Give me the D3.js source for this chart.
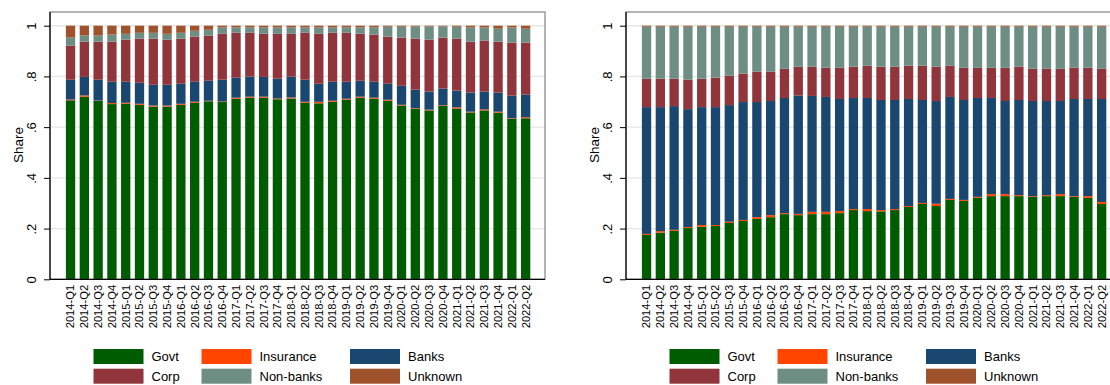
<!DOCTYPE html>
<html>
<head>
<meta charset="utf-8">
<script src="https://cdn.jsdelivr.net/npm/d3@7/dist/d3.min.js"></script>
<style>
  html, body { margin: 0; padding: 0; background: #ffffff; }
  svg { display: block; font-family: "Liberation Sans", Arial, Helvetica, sans-serif; }
</style>
</head>
<body>
<script>
// Quarterly labels on the category axis
const quarters = [
  "2014-Q1","2014-Q2","2014-Q3","2014-Q4","2015-Q1","2015-Q2","2015-Q3","2015-Q4",
  "2016-Q1","2016-Q2","2016-Q3","2016-Q4","2017-Q1","2017-Q2","2017-Q3","2017-Q4",
  "2018-Q1","2018-Q2","2018-Q3","2018-Q4","2019-Q1","2019-Q2","2019-Q3","2019-Q4",
  "2020-Q1","2020-Q2","2020-Q3","2020-Q4","2021-Q1","2021-Q2","2021-Q3","2021-Q4",
  "2022-Q1","2022-Q2"
];

// Holder groups, stacked bottom to top
const seriesNames = ["Govt", "Insurance", "Banks", "Corp", "Non-banks", "Unknown"];
const seriesColors = ["#005c00", "#ff4500", "#1a476f", "#90353b", "#6e8e84", "#a0522d"];

const yTickValues = [0, 0.2, 0.4, 0.6, 0.8, 1];
const yTickLabels = ["0", ".2", ".4", ".6", ".8", "1"];

// Left panel shares
const govtA = [0.706,0.720,0.704,0.691,0.692,0.688,0.681,0.681,0.688,0.696,0.702,0.699,0.712,0.716,0.716,0.710,0.713,
               0.696,0.694,0.700,0.708,0.716,0.712,0.704,0.685,0.673,0.666,0.685,0.673,0.658,0.666,0.657,0.633,0.635];
const insuranceA = [0.003,0.005,0.001,0.004,0.004,0.004,0.004,0.004,0.004,0.004,0.002,0.002,0.004,0.004,0.004,0.003,0.004,
                    0.004,0.006,0.004,0.004,0.004,0.004,0.004,0.003,0.002,0.003,0.002,0.005,0.003,0.004,0.004,0.002,0.004];
const banksA = [0.078,0.073,0.082,0.084,0.083,0.083,0.082,0.082,0.079,0.079,0.079,0.086,0.079,0.079,0.078,0.078,0.082,
                0.087,0.071,0.075,0.067,0.063,0.063,0.063,0.075,0.073,0.071,0.065,0.066,0.075,0.070,0.075,0.089,0.089];
const corpA = [0.134,0.139,0.150,0.158,0.166,0.174,0.182,0.178,0.178,0.178,0.178,0.181,0.177,0.173,0.170,0.177,0.169,
               0.185,0.197,0.193,0.193,0.185,0.186,0.186,0.190,0.201,0.205,0.201,0.205,0.201,0.201,0.201,0.209,0.205];
const nonbanksA = [0.032,0.025,0.024,0.028,0.023,0.023,0.023,0.023,0.023,0.023,0.023,0.025,0.021,0.021,0.025,0.025,0.025,
                   0.021,0.025,0.021,0.021,0.025,0.028,0.039,0.043,0.048,0.052,0.044,0.047,0.056,0.052,0.051,0.060,0.055];
const unknownA = [0.047,0.038,0.039,0.035,0.032,0.028,0.028,0.032,0.028,0.020,0.016,0.007,0.007,0.007,0.007,0.007,0.007,
                  0.007,0.007,0.007,0.007,0.007,0.007,0.004,0.004,0.003,0.003,0.003,0.004,0.007,0.007,0.012,0.007,0.012];

// Right panel shares
const govtB = [0.175,0.184,0.191,0.202,0.207,0.210,0.222,0.230,0.238,0.245,0.257,0.253,0.257,0.257,0.261,0.273,0.269,
               0.268,0.273,0.285,0.297,0.289,0.313,0.309,0.321,0.328,0.328,0.328,0.325,0.328,0.328,0.325,0.321,0.297];
const insuranceB = [0.004,0.006,0.004,0.004,0.007,0.004,0.005,0.004,0.007,0.008,0.004,0.005,0.009,0.009,0.008,0.004,0.008,
                    0.005,0.004,0.004,0.004,0.009,0.004,0.004,0.004,0.008,0.008,0.004,0.003,0.004,0.008,0.003,0.007,0.008];
const banksB = [0.500,0.489,0.488,0.465,0.465,0.465,0.460,0.465,0.454,0.450,0.454,0.467,0.457,0.453,0.442,0.438,0.438,
                0.434,0.430,0.422,0.406,0.405,0.402,0.394,0.390,0.379,0.367,0.375,0.375,0.371,0.367,0.383,0.383,0.406];
const corpB = [0.112,0.112,0.108,0.116,0.112,0.116,0.116,0.112,0.120,0.116,0.115,0.113,0.115,0.115,0.123,0.123,0.127,
               0.131,0.131,0.131,0.135,0.135,0.123,0.127,0.119,0.119,0.131,0.131,0.127,0.127,0.127,0.123,0.123,0.119];
const nonbanksB = [0.205,0.205,0.205,0.209,0.205,0.201,0.193,0.185,0.177,0.177,0.166,0.158,0.158,0.162,0.162,0.158,0.154,
                   0.158,0.158,0.154,0.154,0.158,0.154,0.162,0.162,0.162,0.162,0.158,0.166,0.166,0.166,0.162,0.162,0.166];
const unknownB = [0.004,0.004,0.004,0.004,0.004,0.004,0.004,0.004,0.004,0.004,0.004,0.004,0.004,0.004,0.004,0.004,0.004,
                  0.004,0.004,0.004,0.004,0.004,0.004,0.004,0.004,0.004,0.004,0.004,0.004,0.004,0.004,0.004,0.004,0.004];

function buildRows(cols) {
  return quarters.map((q, i) => {
    const row = { quarter: q };
    seriesNames.forEach((s, k) => { row[s] = cols[k][i]; });
    return row;
  });
}

const rowsA = buildRows([govtA, insuranceA, banksA, corpA, nonbanksA, unknownA]);
const rowsB = buildRows([govtB, insuranceB, banksB, corpB, nonbanksB, unknownB]);

const W = 1110, H = 385;
const svg = d3.select("body").append("svg").attr("width", W).attr("height", H);
svg.append("rect").attr("width", W).attr("height", H).attr("fill", "#ffffff");

const color = d3.scaleOrdinal().domain(seriesNames).range(seriesColors);

const panelW = 495;
const frameTop = 12;

function drawPanel(left, rows) {
  const g = svg.append("g").attr("transform", `translate(${left},0)`);

  const x = d3.scaleBand().domain(quarters).range([9, 487.2]).paddingInner(0.325).paddingOuter(0.5);
  const y = d3.scaleLinear().domain([0, 1]).range([279.3, 25.7]);

  // horizontal grid
  g.append("g").selectAll("line")
    .data(yTickValues.filter(v => v > 0))
    .join("line")
    .attr("x1", 0).attr("x2", panelW)
    .attr("y1", d => y(d)).attr("y2", d => y(d))
    .attr("stroke", "#e6e6e6").attr("stroke-width", 1.4);

  // stacked bars
  const stacked = d3.stack().keys(seriesNames)(rows);
  g.append("g").selectAll("g")
    .data(stacked)
    .join("g")
    .attr("fill", d => color(d.key))
    .selectAll("rect")
    .data(d => d)
    .join("rect")
    .attr("x", d => x(d.data.quarter))
    .attr("width", x.bandwidth())
    .attr("y", d => y(d[1]))
    .attr("height", d => Math.max(0, y(d[0]) - y(d[1])));

  // plot region outline
  g.append("rect")
    .attr("x", 0).attr("y", frameTop)
    .attr("width", panelW).attr("height", y(0) - frameTop)
    .attr("fill", "none").attr("stroke", "#6b6b6b").attr("stroke-width", 1);

  // y axis
  const yAxis = g.append("g")
    .call(d3.axisLeft(y).tickValues(yTickValues).tickFormat((d, i) => yTickLabels[i]).tickSize(6).tickSizeOuter(0));
  yAxis.select(".domain").attr("d", `M0,${frameTop}V${y(0)}`).attr("stroke", "#000").attr("stroke-width", 1.2);
  yAxis.selectAll(".tick line").attr("stroke", "#000");
  yAxis.selectAll(".tick text")
    .attr("x", 0).attr("dy", 0)
    .attr("text-anchor", "middle")
    .attr("transform", "translate(-14,0) rotate(-90)")
    .attr("font-size", 13).attr("fill", "#000");

  // x axis
  const xAxis = g.append("g").attr("transform", `translate(0,${y(0)})`)
    .call(d3.axisBottom(x).tickSize(0).tickSizeOuter(0));
  xAxis.select(".domain").attr("d", `M0,0H${panelW}`).attr("stroke", "#000").attr("stroke-width", 1.2);
  xAxis.selectAll(".tick text")
    .attr("x", 0).attr("y", 0).attr("dy", "0.35em")
    .attr("text-anchor", "end")
    .attr("transform", "translate(0,5.5) rotate(-90)")
    .attr("font-size", 11.2).attr("fill", "#000");

  // y title
  g.append("text")
    .attr("transform", `translate(-27.3,145) rotate(-90)`)
    .attr("text-anchor", "middle")
    .attr("font-size", 13.5)
    .text("Share");

  // legend, three columns by two rows
  const colX = [43.5, 151.5, 300];
  const rowY = [349, 368.7];
  const item = g.append("g").selectAll("g")
    .data(seriesNames)
    .join("g")
    .attr("transform", (d, i) => `translate(${colX[i % 3]},${rowY[Math.floor(i / 3)]})`);
  item.append("rect")
    .attr("width", 50).attr("height", 15)
    .attr("fill", d => color(d));
  item.append("text")
    .attr("x", 58).attr("y", 12.3)
    .attr("font-size", 13)
    .text(d => d);
}

drawPanel(50, rowsA);
drawPanel(626, rowsB);
</script>
</body>
</html>
